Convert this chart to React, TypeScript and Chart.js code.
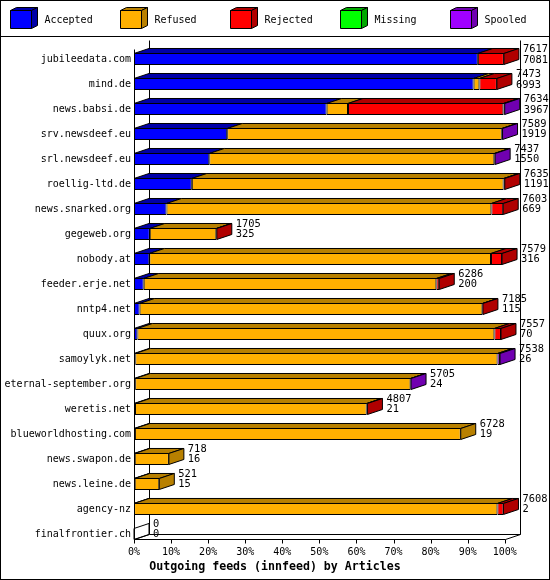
import React, { useEffect, useRef } from 'react'
import { Chart } from 'chart.js/auto'

// innfeed outgoing feeds, article counts per peer
const hosts = [
    'jubileedata.com', 'mind.de', 'news.babsi.de', 'srv.newsdeef.eu', 'srl.newsdeef.eu',
    'roellig-ltd.de', 'news.snarked.org', 'gegeweb.org', 'nobody.at', 'feeder.erje.net',
    'nntp4.net', 'quux.org', 'samoylyk.net', 'eternal-september.org', 'weretis.net',
    'blueworldhosting.com', 'news.swapon.de', 'news.leine.de', 'agency-nz', 'finalfrontier.ch',
]
const offered = [7617, 7473, 7634, 7589, 7437, 7635, 7603, 1705, 7579, 6286, 7185, 7557, 7538, 5705, 4807, 6728, 718, 521, 7608, 0]
const accepted = [7081, 6993, 3967, 1919, 1550, 1191, 669, 325, 316, 200, 115, 70, 26, 24, 21, 19, 16, 15, 2, 0]
const refused = [0, 120, 440, 5655, 5870, 6420, 6690, 1370, 7036, 6026, 7060, 7351, 7460, 5670, 4771, 6709, 702, 506, 7482, 0]
const rejected = [536, 360, 3200, 0, 0, 24, 244, 10, 227, 60, 10, 136, 0, 0, 15, 0, 0, 0, 124, 0]
const missing = [0, 0, 0, 0, 0, 0, 0, 0, 0, 0, 0, 0, 0, 0, 0, 0, 0, 0, 0, 0]
const spooled = [0, 0, 27, 15, 17, 0, 0, 0, 0, 0, 0, 0, 52, 11, 0, 0, 0, 0, 0, 0]

const seriesNames = ['Accepted', 'Refused', 'Rejected', 'Missing', 'Spooled']
const seriesValues = [accepted, refused, rejected, missing, spooled]
const faceColors = ['#0000ff', '#ffb000', '#ff0000', '#00ff00', '#a000ff']
const shadeColors = ['#0000a8', '#b88000', '#b00000', '#00a800', '#7000b0']
const xTicks = [0, 10, 20, 30, 40, 50, 60, 70, 80, 90, 100]
const chartTitle = 'Outgoing feeds (innfeed) by Articles'

const MONO = '"DejaVu Sans Mono", "Liberation Mono", monospace'
const DX = 15
const DY = 5

const maxOffered = Math.max(...offered)
const pct = (v: number) => (v / maxOffered) * 100

const px = (v: number) => Math.round(v) + 0.5

function line(ctx: CanvasRenderingContext2D, x1: number, y1: number, x2: number, y2: number) {
    ctx.beginPath()
    ctx.moveTo(x1, y1)
    ctx.lineTo(x2, y2)
    ctx.stroke()
}

function poly(ctx: CanvasRenderingContext2D, pts: number[][], fill: string | null) {
    ctx.beginPath()
    ctx.moveTo(pts[0][0], pts[0][1])
    for (let i = 1; i < pts.length; i++) ctx.lineTo(pts[i][0], pts[i][1])
    ctx.closePath()
    if (fill) {
        ctx.fillStyle = fill
        ctx.fill()
    }
    ctx.stroke()
}

const threeD = {
    id: 'threeD',
    beforeDatasetsDraw(chart: any) {
        const { ctx, chartArea } = chart
        const xs = chart.scales.x
        const ys = chart.scales.y
        const x0 = px(xs.getPixelForValue(0))
        const x100 = px(xs.getPixelForValue(100))
        const floorFront = Math.round(ys.getPixelForValue(hosts.length - 1) + 6) - 0.5
        const floorBack = floorFront - DY
        const wallTop = px(chartArea.top - 7)
        const frontTop = px(chartArea.top + 2)
        ctx.save()
        ctx.strokeStyle = '#000'
        ctx.lineWidth = 1
        line(ctx, x0 + DX, wallTop, x0 + DX, floorBack)
        line(ctx, x100 + DX, wallTop, x100 + DX, floorBack)
        line(ctx, x0 + DX, floorBack, x100 + DX, floorBack)
        line(ctx, x0, frontTop, x0, floorFront)
        line(ctx, x0, floorFront, x100, floorFront)
        line(ctx, x0, floorFront, x0 + DX, floorBack)
        line(ctx, x100, floorFront, x100 + DX, floorBack)
        xTicks.forEach((t) => {
            const x = px(xs.getPixelForValue(t))
            line(ctx, x, floorFront, x, floorFront + 4)
        })
        ctx.restore()
    },
    afterDatasetsDraw(chart: any) {
        const { ctx } = chart
        const xs = chart.scales.x
        const x0 = xs.getPixelForValue(0)
        ctx.save()
        ctx.strokeStyle = '#000'
        ctx.lineWidth = 1
        hosts.forEach((_, i) => {
            let right = x0
            let lastK = -1
            let top = 0
            let bottom = 0
            let cy = 0
            seriesValues.forEach((vals, k) => {
                const bar = chart.getDatasetMeta(k).data[i]
                cy = bar.y
                top = bar.y - bar.height / 2 + 0.5
                bottom = bar.y + bar.height / 2 - 0.5
                if (vals[i] <= 0) return
                const a = bar.base
                const b = bar.x
                poly(ctx, [[a, top], [b, top], [b + DX, top - DY], [a + DX, top - DY]], shadeColors[k])
                right = b
                lastK = k
            })
            poly(
                ctx,
                [[right, top], [right + DX, top - DY], [right + DX, bottom - DY], [right, bottom]],
                lastK >= 0 ? shadeColors[lastK] : null,
            )
            ctx.fillStyle = '#000'
            ctx.font = `10.4px ${MONO}`
            ctx.textAlign = 'left'
            ctx.textBaseline = 'middle'
            ctx.fillText(String(offered[i]), right + DX + 4, cy - 10)
            ctx.fillText(String(accepted[i]), right + DX + 4, cy + 0.8)
        })
        ctx.restore()
    },
    afterDraw(chart: any) {
        const { ctx, width, height } = chart
        ctx.save()
        ctx.strokeStyle = '#000'
        ctx.lineWidth = 1
        ctx.strokeRect(0.5, 0.5, width - 1, height - 1)
        line(ctx, 0, 36.5, width, 36.5)
        seriesNames.forEach((name, k) => {
            const x = 10.5 + 110 * k
            const y = 10.5
            const w = 21
            const h = 18
            const d = 6
            const e = 3
            poly(ctx, [[x, y], [x + w, y], [x + w, y + h], [x, y + h]], faceColors[k])
            poly(ctx, [[x, y], [x + d, y - e], [x + w + d, y - e], [x + w, y]], shadeColors[k])
            poly(ctx, [[x + w, y], [x + w + d, y - e], [x + w + d, y + h - e], [x + w, y + h]], shadeColors[k])
            ctx.fillStyle = '#000'
            ctx.font = `10px ${MONO}`
            ctx.textAlign = 'left'
            ctx.textBaseline = 'middle'
            ctx.fillText(name, x + 34, 20)
        })
        ctx.restore()
    },
}

export default function App() {
    const chartRef = useRef<HTMLCanvasElement>(null)

    useEffect(() => {
        if (!chartRef.current) return

        const chart = new Chart(chartRef.current, {
            type: 'bar',
            data: {
                labels: hosts,
                datasets: seriesNames.map((name, k) => ({
                    label: name,
                    data: seriesValues[k].map(pct),
                    backgroundColor: faceColors[k],
                    borderColor: '#000',
                    borderWidth: 1,
                    borderSkipped: false,
                    barThickness: 12,
                    inflateAmount: 0,
                })),
            },
            options: {
                indexAxis: 'y',
                responsive: false,
                animation: false,
                layout: { padding: { top: 46.5, right: 0, bottom: 0, left: 0 } },
                scales: {
                    x: {
                        type: 'linear',
                        stacked: true,
                        min: 0,
                        // room on the right for the 3d depth and the count labels
                        max: 112.2,
                        afterBuildTicks: (s: any) => {
                            s.ticks = xTicks.map((v) => ({ value: v }))
                        },
                        afterFit: (s: any) => {
                            s.height = 10
                        },
                        grid: { display: false, drawTicks: false },
                        border: { display: false },
                        ticks: {
                            padding: 0,
                            autoSkip: false,
                            maxRotation: 0,
                            color: '#000',
                            font: { family: MONO, size: 10 },
                            callback: (v: any) => `${v}%`,
                        },
                    },
                    y: {
                        stacked: true,
                        afterFit: (s: any) => {
                            s.width = 134
                        },
                        grid: { display: false, drawTicks: false },
                        border: { display: false },
                        ticks: {
                            padding: 3,
                            autoSkip: false,
                            color: '#000',
                            font: { family: MONO, size: 10 },
                        },
                    },
                },
                plugins: {
                    legend: { display: false },
                    tooltip: { enabled: false },
                    title: {
                        display: true,
                        position: 'bottom',
                        text: chartTitle,
                        color: '#000',
                        font: { family: MONO, size: 11.6, weight: 'bold' },
                        padding: { top: 3.6, bottom: 6 },
                    },
                },
            },
            plugins: [threeD],
        })

        return () => {
            chart.destroy()
        }
    }, [])

    return (
        <div style={{ width: 550, height: 580 }}>
            <style>{'body { margin: 0; }'}</style>
            <canvas ref={chartRef} width={550} height={580} style={{ display: 'block' }} />
        </div>
    )
}
